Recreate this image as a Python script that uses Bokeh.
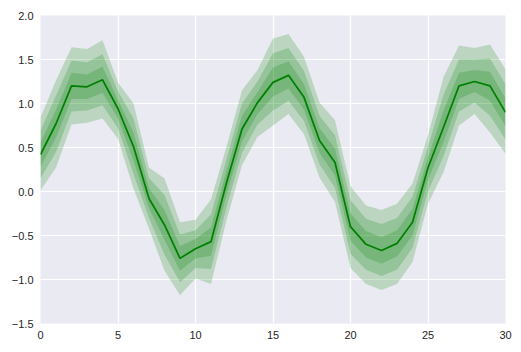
from bokeh.plotting import figure
from bokeh.models import FixedTicker, CustomJSTickFormatter, Range1d
from bokeh.embed import file_html
from bokeh.resources import INLINE

# ---- data ----
x = list(range(31))
mean = [0.42, 0.77, 1.20, 1.19, 1.27, 0.94, 0.51, -0.08, -0.38, -0.76,
        -0.65, -0.57, 0.10, 0.71, 1.01, 1.24, 1.32, 1.07, 0.58, 0.33,
        -0.40, -0.60, -0.67, -0.59, -0.35, 0.27, 0.73, 1.20, 1.25, 1.20, 0.90]
# outer band
hi_out = [0.84, 1.26, 1.64, 1.62, 1.72, 1.24, 1.00, 0.27, 0.15, -0.35,
          -0.32, -0.09, 0.51, 1.15, 1.38, 1.74, 1.79, 1.53, 1.01, 0.81,
          0.06, -0.16, -0.21, -0.14, 0.09, 0.64, 1.30, 1.66, 1.63, 1.67, 1.39]
lo_out = [0.01, 0.27, 0.76, 0.78, 0.83, 0.60, 0.03, -0.42, -0.90, -1.18,
          -0.99, -1.05, -0.33, 0.30, 0.62, 0.75, 0.88, 0.65, 0.16, -0.12,
          -0.87, -1.05, -1.12, -1.05, -0.80, -0.14, 0.22, 0.75, 0.88, 0.67, 0.43]
# middle band
hi_mid = [0.69, 1.09, 1.49, 1.47, 1.56, 1.14, 0.83, 0.15, -0.04, -0.49,
          -0.44, -0.26, 0.37, 1.00, 1.25, 1.57, 1.63, 1.37, 0.86, 0.64,
          -0.10, -0.31, -0.37, -0.30, -0.06, 0.51, 1.10, 1.50, 1.50, 1.51, 1.22]
lo_mid = [0.15, 0.45, 0.91, 0.92, 0.98, 0.72, 0.20, -0.30, -0.72, -1.03,
          -0.87, -0.88, -0.18, 0.44, 0.76, 0.92, 1.03, 0.80, 0.31, 0.04,
          -0.71, -0.89, -0.96, -0.89, -0.64, 0.00, 0.40, 0.91, 1.01, 0.86, 0.59]
# inner band
hi_in = [0.56, 0.93, 1.35, 1.33, 1.42, 1.04, 0.67, 0.04, -0.21, -0.62,
         -0.54, -0.41, 0.24, 0.86, 1.13, 1.41, 1.48, 1.22, 0.72, 0.49,
         -0.25, -0.45, -0.52, -0.44, -0.20, 0.39, 0.92, 1.35, 1.38, 1.36, 1.06]
lo_in = [0.28, 0.61, 1.05, 1.05, 1.12, 0.83, 0.35, -0.19, -0.55, -0.90,
         -0.76, -0.73, -0.04, 0.57, 0.88, 1.08, 1.17, 0.93, 0.44, 0.18,
         -0.56, -0.75, -0.82, -0.74, -0.50, 0.13, 0.56, 1.05, 1.13, 1.03, 0.74]

x_ticks = [0, 5, 10, 15, 20, 25, 30]
y_ticks = [-1.5, -1.0, -0.5, 0.0, 0.5, 1.0, 1.5, 2.0]

p = figure(frame_width=465, frame_height=308,
           output_backend="svg", toolbar_location=None,
           x_range=Range1d(0, 30), y_range=Range1d(-1.5, 2.0),
           min_border_left=40, min_border_right=14,
           min_border_top=15, min_border_bottom=27)

p.background_fill_color = "#EAEAF2"
p.border_fill_color = "white"
p.outline_line_color = None

for lo, hi in [(lo_out, hi_out), (lo_mid, hi_mid), (lo_in, hi_in)]:
    p.varea(x=x, y1=lo, y2=hi, fill_color="#008000", fill_alpha=0.2)

p.line(x, mean, line_color="#008000", line_width=1.75)

p.xaxis.ticker = FixedTicker(ticks=x_ticks)
p.yaxis.ticker = FixedTicker(ticks=y_ticks)
p.xaxis.formatter = CustomJSTickFormatter(code="return tick.toFixed(0);")
p.yaxis.formatter = CustomJSTickFormatter(code="return tick.toFixed(1).replace('-', '\u2212');")

for ax in (p.xaxis, p.yaxis):
    ax.axis_line_color = None
    ax.major_tick_line_color = None
    ax.minor_tick_line_color = None
    ax.major_tick_in = 0
    ax.major_tick_out = 0
    ax.major_label_text_font = "Liberation Sans"
    ax.major_label_text_font_size = "11px"
    ax.major_label_text_color = "#262626"
    ax.major_label_standoff = 7

for g in (p.xgrid, p.ygrid):
    g.grid_line_color = "white"
    g.grid_line_width = 1.2

open("out.html", "w").write(file_html(p, INLINE))
